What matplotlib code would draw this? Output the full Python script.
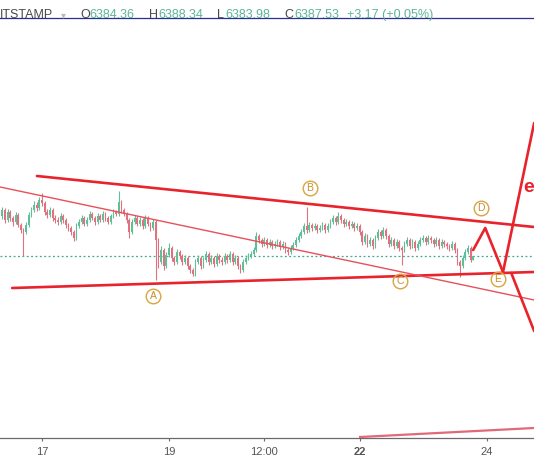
import matplotlib
matplotlib.use("Agg")
import matplotlib.pyplot as plt
import matplotlib.dates as mdates
import pandas as pd
import numpy as np

# ---------------- data (hourly BTC/USD candles, Bitstamp) ----------------
first_open = 6428
closes = [
    6434, 6424, 6432, 6426, 6422, 6429, 6419, 6414, 6412,
    6419, 6429, 6434, 6439, 6436, 6444, 6441, 6432,
    6429, 6434, 6426, 6424, 6422, 6428, 6424, 6419,
    6416, 6412, 6406, 6418, 6422, 6426, 6420, 6424,
    6430, 6426, 6422, 6428, 6424, 6430, 6426, 6422,
    6428, 6432, 6430, 6442, 6434, 6430, 6424, 6412,
    6422, 6426, 6420, 6424, 6418, 6426, 6420, 6416,
    6422, 6404,
    6382, 6394, 6378, 6389, 6396, 6386, 6382, 6392,
    6388, 6382, 6386, 6378, 6374, 6370, 6382, 6386,
    6378, 6384, 6390, 6382, 6386, 6380, 6388, 6384,
    6382, 6388, 6384, 6390, 6382, 6386, 6378, 6374,
    6382, 6386, 6388, 6390, 6394, 6408, 6404, 6400,
    6404, 6399, 6402, 6398, 6400, 6402, 6397, 6400,
    6394, 6392, 6396, 6399, 6404, 6408, 6412, 6418,
    6414,
    6419, 6416, 6418, 6414, 6416, 6419, 6414, 6418,
    6422, 6426, 6422, 6428, 6424, 6420, 6422, 6418,
    6420, 6416, 6418, 6412, 6402, 6408, 6400, 6404,
    6398, 6406, 6412, 6408, 6414, 6408, 6400, 6404,
    6398, 6402, 6396, 6394, 6400, 6404, 6398, 6402,
    6396, 6400, 6404, 6406, 6402, 6406, 6404, 6400,
    6404, 6398, 6402, 6400, 6398, 6396, 6400, 6394,
    6382, 6378, 6386, 6392, 6396, 6384.36, 6387.53,
]
highs = [
    6437, 6436, 6435, 6434, 6428, 6432, 6431, 6421, 6416,
    6422, 6432, 6437, 6443, 6442, 6447, 6451, 6443,
    6435, 6437, 6436, 6429, 6427, 6431, 6430, 6426,
    6421, 6418, 6414, 6421, 6425, 6429, 6428, 6427,
    6433, 6432, 6428, 6431, 6430, 6433, 6432, 6428,
    6430, 6435, 6434, 6453, 6444, 6436, 6432, 6426,
    6425, 6429, 6428, 6427, 6426, 6429, 6428, 6422,
    6425, 6424,
    6406, 6398, 6396, 6392, 6401, 6398, 6388, 6395,
    6394, 6390, 6389, 6388, 6380, 6376, 6385, 6389,
    6388, 6387, 6393, 6392, 6389, 6388, 6391, 6390,
    6387, 6391, 6390, 6393, 6392, 6389, 6388, 6380,
    6385, 6389, 6391, 6393, 6397, 6412, 6410, 6406,
    6407, 6406, 6405, 6404, 6403, 6405, 6404, 6403,
    6402, 6396, 6399, 6402, 6407, 6411, 6415, 6421,
    6437,
    6422, 6421, 6421, 6420, 6419, 6422, 6421, 6421,
    6425, 6429, 6428, 6432, 6430, 6426, 6425, 6424,
    6423, 6422, 6421, 6420, 6414, 6411, 6410, 6407,
    6406, 6409, 6415, 6414, 6417, 6416, 6410, 6407,
    6406, 6405, 6404, 6398, 6403, 6407, 6406, 6405,
    6404, 6403, 6407, 6409, 6408, 6409, 6408, 6406,
    6407, 6406, 6405, 6404, 6402, 6400, 6403, 6402,
    6396, 6384, 6389, 6395, 6399, 6398, 6388.34,
]
lows = [
    6425, 6421, 6422, 6423, 6418, 6420, 6417, 6411, 6388,
    6410, 6417, 6427, 6432, 6433, 6434, 6438, 6429,
    6426, 6427, 6423, 6421, 6419, 6420, 6421, 6416,
    6413, 6409, 6403, 6404, 6416, 6420, 6418, 6418,
    6422, 6424, 6419, 6420, 6422, 6422, 6423, 6420,
    6420, 6426, 6428, 6428, 6431, 6428, 6421, 6406,
    6410, 6420, 6418, 6418, 6415, 6416, 6418, 6413,
    6414, 6364,
    6376, 6380, 6374, 6376, 6387, 6383, 6379, 6380,
    6385, 6379, 6380, 6375, 6371, 6368, 6368, 6380,
    6375, 6376, 6382, 6379, 6380, 6377, 6378, 6381,
    6379, 6380, 6381, 6382, 6379, 6380, 6375, 6371,
    6372, 6380, 6384, 6386, 6388, 6392, 6401, 6397,
    6398, 6396, 6397, 6395, 6396, 6398, 6394, 6395,
    6391, 6389, 6390, 6394, 6397, 6402, 6406, 6410,
    6411,
    6412, 6413, 6414, 6411, 6412, 6414, 6411, 6412,
    6416, 6420, 6419, 6420, 6421, 6417, 6418, 6415,
    6416, 6413, 6414, 6409, 6399, 6400, 6397, 6398,
    6395, 6396, 6404, 6405, 6406, 6405, 6397, 6398,
    6395, 6396, 6393, 6379, 6392, 6398, 6395, 6396,
    6393, 6394, 6398, 6402, 6399, 6400, 6401, 6397,
    6398, 6395, 6396, 6397, 6395, 6393, 6394, 6391,
    6379, 6367, 6376, 6384, 6390, 6382, 6383.98,
]
start_time = "2018-10-16 09:00"
last_close = 6387.53

# drawn trend lines: (day of October, price)
upper_days, upper_prices = [16.92, 24.75], [6468, 6417]
lower_days, lower_prices = [16.53, 24.75], [6356, 6372]
thin_days, thin_prices = [16.34, 24.75], [6457, 6344]
zigzag_days, zigzag_prices = [23.79, 23.98, 24.26], [6394, 6416, 6372]
breakout_days, breakout_prices = [24.26, 24.75], [6372, 6521]
drop_days, drop_prices = [24.39, 24.75], [6371, 6313]
bottom_days, bottom_prices = [22.01, 24.75], [6207, 6216]

wave_labels = ["A", "B", "C", "D", "E"]
wave_days = [18.75, 21.22, 22.64, 23.91, 24.18]
wave_prices = [6348, 6456, 6363, 6436, 6365]

tick_days = [17, 19, 20.5, 22, 24]
tick_labels = ["17", "19", "12:00", "22", "24"]

# ---------------- figure ----------------
W, H = 534, 462
fig = plt.figure(figsize=(W / 100, H / 100), dpi=100)
fig.patch.set_facecolor("white")
ax = fig.add_axes([0, (H - 438) / H, 1, (438 - 18) / H])
ax.set_facecolor("white")

base = mdates.date2num(pd.Timestamp("2018-10-01"))
def dnum(d):
    return base + (np.asarray(d, dtype=float) - 1)

times = mdates.date2num(pd.date_range(start_time, periods=len(closes), freq="h"))
opens = [first_open] + closes[:-1]

green, red = "#5fbf98", "#e2717f"
for t, o, h, l, c in zip(times, opens, highs, lows, closes):
    col = green if c >= o else red
    ax.vlines(t, l, h, color=col, lw=0.8, zorder=2)
    lo, hi = min(o, c), max(o, c)
    ax.bar(t, max(hi - lo, 0.8), bottom=lo, width=0.66 / 24, color=col,
           edgecolor="none", zorder=3)

ax.axhline(last_close, color="#3fa88f", lw=0.9, ls=(0, (1.5, 2)), zorder=1)

thick = dict(color="#e8232b", lw=1.9, solid_capstyle="round", zorder=4)
ax.plot(dnum(upper_days), upper_prices, **thick)
ax.plot(dnum(lower_days), lower_prices, **thick)
ax.plot(dnum(thin_days), thin_prices, color="#e8505a", lw=1.0, zorder=4)
ax.plot(dnum(zigzag_days), zigzag_prices, **thick)
ax.plot(dnum(breakout_days), breakout_prices, **thick)
ax.plot(dnum(drop_days), drop_prices, **thick)
ax.plot(dnum(bottom_days), bottom_prices, color="#e06a78", lw=1.6, zorder=4)

ax.plot(dnum(wave_days), wave_prices, "o", ms=10.5, mfc="none",
        mec="#d9a441", mew=1.0, zorder=5)
for lab, d, p in zip(wave_labels, wave_days, wave_prices):
    ax.text(dnum(d), p, lab, ha="center", va="center", fontsize=7.5,
            color="#c98f2a", family="Liberation Sans", zorder=6)

ax.text(dnum(24.745), 6457, "e", ha="right", va="center", fontsize=14,
        color="#e8232b", fontweight="bold", family="Liberation Sans", zorder=6)

ax.set_xlim(dnum(16.3386), dnum(24.748))
ax.set_ylim(6206, 6626)
for s in ["top", "left", "right"]:
    ax.spines[s].set_visible(False)
ax.spines["bottom"].set_color("#6a6a6a")
ax.spines["bottom"].set_linewidth(0.9)
ax.set_yticks([])
ax.set_xticks(dnum(tick_days))
ax.set_xticklabels(tick_labels)
ax.tick_params(axis="x", direction="out", length=2.5, width=0.8, color="#6a6a6a",
               labelsize=8, labelcolor="#555555", pad=4)
for lbl in ax.get_xticklabels():
    lbl.set_family("Liberation Sans")
    if lbl.get_text() == "22":
        lbl.set_fontweight("bold")

# ---------------- header ----------------
def fx(px):
    return px / W
def fy(py):
    return 1 - py / H

fig.add_artist(plt.Line2D([0, 1], [fy(18.3), fy(18.3)], color="#2b2f8f", lw=0.9))
hdr = dict(fontsize=9, va="center", family="Liberation Sans")
fig.text(fx(0), fy(15), "ITSTAMP", color="#4a4a4a", ha="left", **hdr)
fig.text(fx(61), fy(15), "\u25be", color="#bbbbbb", ha="left", fontsize=7, va="center")
num_col = "#5db596"
fig.text(fx(80), fy(15), "O", color="#4a4a4a", ha="left", **hdr)
fig.text(fx(89.5), fy(15), "6384.36", color=num_col, ha="left", **hdr)
fig.text(fx(149), fy(15), "H", color="#4a4a4a", ha="left", **hdr)
fig.text(fx(158.5), fy(15), "6388.34", color=num_col, ha="left", **hdr)
fig.text(fx(217), fy(15), "L", color="#4a4a4a", ha="left", **hdr)
fig.text(fx(225.5), fy(15), "6383.98", color=num_col, ha="left", **hdr)
fig.text(fx(284), fy(15), "C", color="#4a4a4a", ha="left", **hdr)
fig.text(fx(294), fy(15), "6387.53", color=num_col, ha="left", **hdr)
fig.text(fx(347), fy(15), "+3.17 (+0.05%)", color=num_col, ha="left", **hdr)

fig.savefig("out.png", dpi=100, facecolor="white")
